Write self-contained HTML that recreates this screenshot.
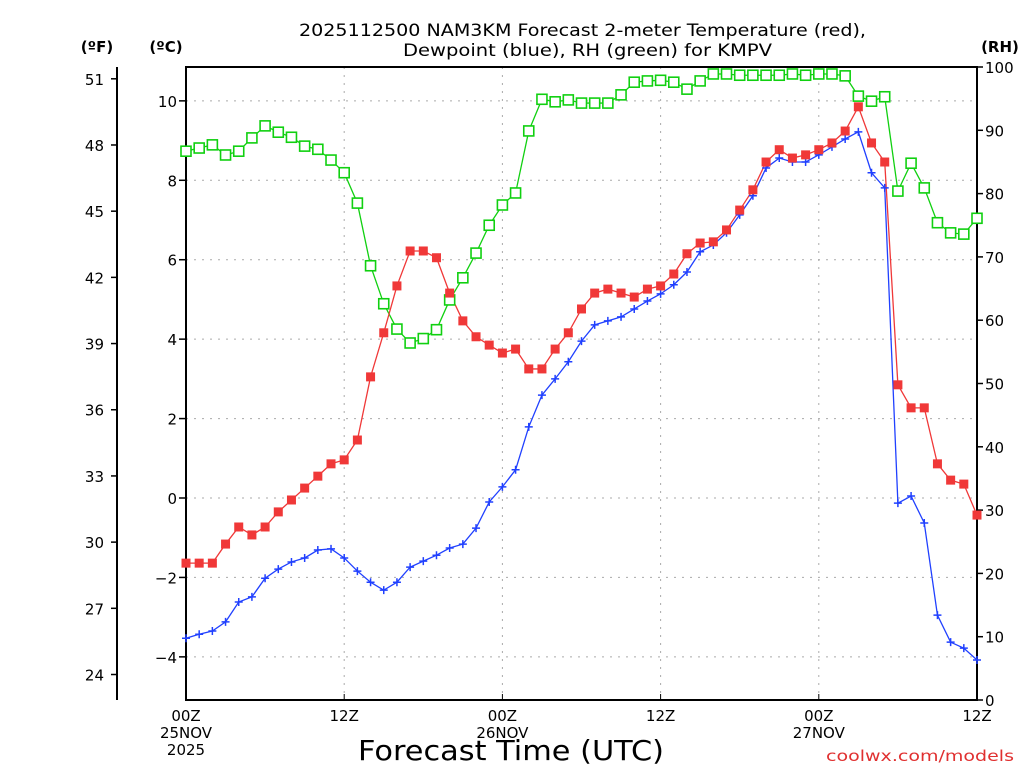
<!DOCTYPE html>
<html><head><meta charset="utf-8"><style>
body{margin:0;background:#fff;width:1024px;height:768px;overflow:hidden}
svg{display:block;font-family:"DejaVu Sans","Liberation Sans",sans-serif}
</style></head><body>
<svg id="chart" width="1024" height="768" viewBox="0 0 1024 768">
<text x="299" y="36" font-size="17" textLength="567" lengthAdjust="spacingAndGlyphs">2025112500 NAM3KM Forecast 2-meter Temperature (red),</text>
<text x="403" y="56" font-size="17" textLength="369" lengthAdjust="spacingAndGlyphs">Dewpoint (blue), RH (green) for KMPV</text>
<text x="97" y="52" text-anchor="middle" font-size="15" font-weight="bold">(ºF)</text>
<text x="166" y="52" text-anchor="middle" font-size="15" font-weight="bold">(ºC)</text>
<text x="1000" y="52" text-anchor="middle" font-size="15" font-weight="bold">(RH)</text>
<text x="358" y="760" font-size="28" textLength="306" lengthAdjust="spacingAndGlyphs">Forecast Time (UTC)</text>
<text x="826" y="761" font-size="15" fill="#e03030" textLength="188" lengthAdjust="spacingAndGlyphs">coolwx.com/models</text>
<g id="grid"></g><g id="axes"></g><g id="series"></g>
</svg>
<script>
const hours=[];for(let i=0;i<=60;i++)hours.push(i);
const tempC=[-1.64,-1.64,-1.64,-1.16,-0.73,-0.93,-0.73,-0.35,-0.05,0.25,0.55,0.86,0.96,1.46,3.05,4.16,5.34,6.22,6.22,6.05,5.16,4.46,4.06,3.85,3.65,3.75,3.25,3.25,3.75,4.16,4.76,5.16,5.26,5.16,5.06,5.26,5.34,5.64,6.15,6.42,6.45,6.75,7.25,7.76,8.46,8.77,8.56,8.64,8.77,8.94,9.24,9.85,8.94,8.46,2.85,2.27,2.27,0.86,0.45,0.35,-0.43];
const dewC=[-3.53,-3.43,-3.35,-3.12,-2.62,-2.49,-2.02,-1.79,-1.61,-1.51,-1.31,-1.28,-1.51,-1.84,-2.12,-2.32,-2.12,-1.74,-1.59,-1.44,-1.26,-1.16,-0.76,-0.10,0.28,0.71,1.79,2.59,3.0,3.43,3.95,4.36,4.46,4.56,4.76,4.96,5.14,5.37,5.69,6.20,6.37,6.68,7.13,7.61,8.31,8.56,8.46,8.46,8.64,8.84,9.04,9.22,8.19,7.81,-0.13,0.05,-0.63,-2.95,-3.63,-3.78,-4.08];
const rh=[86.7,87.2,87.7,86.1,86.7,88.8,90.7,89.7,88.9,87.5,87.0,85.3,83.3,78.5,68.6,62.6,58.6,56.4,57.1,58.5,63.2,66.7,70.6,75.0,78.2,80.1,89.9,94.9,94.5,94.8,94.3,94.3,94.3,95.6,97.6,97.8,97.9,97.6,96.5,97.8,98.9,98.9,98.7,98.7,98.7,98.7,98.9,98.7,98.9,98.9,98.6,95.4,94.6,95.3,80.4,84.8,80.9,75.4,73.8,73.6,76.1];
const cTicks=[-4,-2,0,2,4,6,8,10];
const fTicks=[24,27,30,33,36,39,42,45,48,51];
const rhTicks=[0,10,20,30,40,50,60,70,80,90,100];
const xTickHours=[0,12,24,36,48,60];
const xTickLabels=[["00Z","25NOV","2025"],["12Z"],["00Z","26NOV"],["12Z"],["00Z","27NOV"],["12Z"]];
const L=186,R=977,T=67,B=700;
const xs=h=>L+h*(R-L)/60;
const yc=c=>498-c*39.714;
const yf=f=>yc((f-32)*5/9);
const yr=v=>B-v*(B-T)/100;
const NS="http://www.w3.org/2000/svg";
function mk(tag,attrs,parent,txt){const e=document.createElementNS(NS,tag);for(const k in attrs)e.setAttribute(k,attrs[k]);if(txt!=null)e.textContent=txt;parent.appendChild(e);return e;}
const grid=document.getElementById('grid'),axes=document.getElementById('axes'),ser=document.getElementById('series');
cTicks.forEach(c=>{const y=yc(c);
 const g=mk('line',{x1:L,x2:R,y1:y,y2:y,stroke:'#aaa','stroke-dasharray':'2,6'},grid);
 
 mk('line',{x1:L-7,x2:L,y1:y,y2:y,stroke:'#000','stroke-width':1.5},axes);
 const t=mk('text',{x:177,y:y+6,'text-anchor':'end','font-size':15},axes,c<0?'−'+(-c):String(c));
 });
xTickHours.forEach((h,i)=>{const x=xs(h);
 if(i>0&&i<xTickHours.length-1){const g=mk('line',{x1:x,x2:x,y1:T,y2:B,stroke:'#aaa','stroke-dasharray':'2,6'},grid);
 }
 mk('line',{x1:x,x2:x,y1:B,y2:B-6,stroke:'#000'},axes);
 xTickLabels[i].forEach((s,j)=>{const t=mk('text',{x:x,y:721+j*17,'text-anchor':'middle','font-size':15},axes,s);
 });});
fTicks.forEach(f=>{const y=yf(f);
 mk('line',{x1:111,x2:117,y1:y,y2:y,stroke:'#000','stroke-width':1.5},axes);
 const t=mk('text',{x:104,y:y+6,'text-anchor':'end','font-size':15},axes,String(f));
 });
rhTicks.forEach(v=>{const y=yr(v);
 mk('line',{x1:R,x2:R+6,y1:y,y2:y,stroke:'#000','stroke-width':1.5},axes);
 const t=mk('text',{x:985,y:y+6,'font-size':15},axes,String(v));
 });
mk('line',{x1:117,x2:117,y1:67,y2:700,stroke:'#000','stroke-width':2},axes);
const fr=mk('rect',{x:L,y:T,width:R-L,height:B-T,fill:'none',stroke:'#000','stroke-width':2},axes);

function line(vals,yfn,color,name){const p=mk('polyline',{points:vals.map((v,i)=>xs(hours[i])+','+yfn(v)).join(' '),fill:'none',stroke:color,'stroke-width':1.3},ser);
 }
line(rh,yr,'#10d010','rh-line');line(dewC,yc,'#2040ff','dewpoint-line');line(tempC,yc,'#f03838','temperature-line');
rh.forEach((v,i)=>{const r=mk('rect',{x:xs(hours[i])-5,y:yr(v)-5,width:10,height:10,fill:'#fff',stroke:'#10d010','stroke-width':1.6},ser);
 });
dewC.forEach((v,i)=>{const x=xs(hours[i]),y=yc(v);const p=mk('path',{d:`M${x-4},${y}H${x+4}M${x},${y-4}V${y+4}`,stroke:'#2040ff','stroke-width':1.5},ser);
 });
tempC.forEach((v,i)=>{const r=mk('rect',{x:xs(hours[i])-4.5,y:yc(v)-4.5,width:9,height:9,fill:'#f03838'},ser);
 });
</script>
</body></html>
